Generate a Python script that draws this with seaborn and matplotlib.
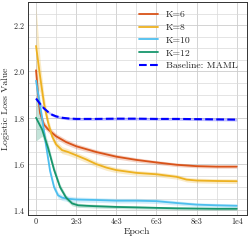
import numpy as np
import pandas as pd
import matplotlib
matplotlib.use("Agg")
import matplotlib.pyplot as plt
from matplotlib.ticker import MultipleLocator
import seaborn as sns

# K=6
k6_x = [0, 100, 200, 400, 600, 1000, 1500, 2000, 3000, 4000, 5000, 6000, 7000, 8000, 9000, 10000]
k6_y = [2.005, 1.90, 1.82, 1.77, 1.75, 1.72, 1.695, 1.677, 1.652, 1.632, 1.618, 1.607, 1.597, 1.591, 1.589, 1.589]
k6_s = [0.03, 0.025, 0.018, 0.014, 0.013, 0.012, 0.012, 0.011, 0.01, 0.01, 0.009, 0.008, 0.008, 0.007, 0.007, 0.007]

# K=8
k8_x = [0, 200, 400, 600, 800, 1000, 1300, 1600, 2000, 2500, 3000, 3500, 4000, 4500, 5000, 6000, 7000, 7500, 8000, 9000, 10000]
k8_y = [2.11, 1.98, 1.86, 1.78, 1.72, 1.685, 1.66, 1.652, 1.638, 1.62, 1.60, 1.585, 1.574, 1.568, 1.562, 1.556, 1.545, 1.533, 1.529, 1.527, 1.526]
k8_s = [0.17, 0.07, 0.035, 0.022, 0.018, 0.016, 0.015, 0.014, 0.013, 0.013, 0.012, 0.012, 0.011, 0.011, 0.01, 0.01, 0.01, 0.01, 0.01, 0.01, 0.01]

# K=10
k10_x = [0, 150, 300, 500, 700, 900, 1100, 1300, 1600, 2000, 3000, 4000, 5000, 6000, 7000, 8000, 9000, 10000]
k10_y = [1.96, 1.88, 1.80, 1.68, 1.57, 1.50, 1.465, 1.455, 1.45, 1.447, 1.445, 1.442, 1.442, 1.44, 1.432, 1.425, 1.422, 1.42]
k10_s = [0.05, 0.03, 0.02, 0.018, 0.016, 0.014, 0.013, 0.012, 0.012, 0.011, 0.01, 0.01, 0.01, 0.01, 0.009, 0.008, 0.008, 0.008]

# K=12
k12_x = [0, 300, 600, 900, 1200, 1500, 1800, 2100, 2500, 3000, 4000, 5000, 6000, 7000, 8000, 9000, 10000]
k12_y = [1.80, 1.75, 1.67, 1.575, 1.50, 1.455, 1.43, 1.422, 1.42, 1.418, 1.415, 1.413, 1.411, 1.409, 1.408, 1.407, 1.407]
k12_s = [0.1, 0.03, 0.02, 0.016, 0.013, 0.011, 0.01, 0.009, 0.008, 0.008, 0.007, 0.007, 0.006, 0.006, 0.006, 0.006, 0.006]

# Baseline MAML
maml_x = [0, 200, 400, 600, 800, 1000, 1300, 1600, 2000, 3000, 4000, 5000, 6000, 7000, 8000, 9000, 10000]
maml_y = [1.883, 1.86, 1.84, 1.825, 1.813, 1.806, 1.80, 1.797, 1.795, 1.795, 1.796, 1.796, 1.795, 1.795, 1.794, 1.793, 1.792]
maml_s = [0.006] * len(maml_x)

xtick_pos = [0, 2000, 4000, 6000, 8000, 10000]
xtick_labels = ["0", "2e3", "4e3", "6e3", "8e3", "1e4"]

sns.set_style("white")
plt.rcParams["font.family"] = "serif"
plt.rcParams["font.serif"] = ["cmr10"]
plt.rcParams["mathtext.fontset"] = "cm"
plt.rcParams["axes.formatter.use_mathtext"] = True

series = [
    ("K=6", k6_x, k6_y, k6_s, "#D95319", "-"),
    ("K=8", k8_x, k8_y, k8_s, "#EDB120", "-"),
    ("K=10", k10_x, k10_y, k10_s, "#4DBEEE", "-"),
    ("K=12", k12_x, k12_y, k12_s, "#17966C", "-"),
    ("Baseline: MAML", maml_x, maml_y, maml_s, "#0000FF", "--"),
]

fig = plt.figure(figsize=(2.5, 2.4), dpi=100)
ax = fig.add_axes([0.112, 0.104, 0.875, 0.888])

for name, x, y, s, col, ls in series:
    df = pd.DataFrame({"Epoch": x, "loss": y, "std": s})
    ax.fill_between(df["Epoch"], df["loss"] - df["std"], df["loss"] + df["std"],
                    color=col, alpha=0.25, lw=0)
    sns.lineplot(data=df, x="Epoch", y="loss", ax=ax, color=col,
                 lw=1.5 if ls == "--" else 1.3, linestyle=ls, label=name)

ax.set_xlim(-400, 10500)
ax.set_ylim(1.38, 2.30)
ax.set_xticks(xtick_pos)
ax.set_xticklabels(xtick_labels)
ax.xaxis.set_minor_locator(MultipleLocator(1000))
ax.yaxis.set_major_locator(MultipleLocator(0.2))
ax.yaxis.set_minor_locator(MultipleLocator(0.05))
ax.grid(which="major", color="#cccccc", lw=0.6)
ax.grid(which="minor", color="#d9d9d9", lw=0.5)
ax.set_axisbelow(True)
ax.tick_params(which="both", direction="in", labelsize=5.8, length=2, width=0.5, pad=2)
ax.tick_params(which="minor", length=1)
for sp in ax.spines.values():
    sp.set_color("#333333")
    sp.set_linewidth(0.7)

ax.set_xlabel("Epoch", fontsize=7, labelpad=1)
ax.set_ylabel("Logistic Loss Value", fontsize=7, labelpad=2)
ax.legend(loc="upper right", fontsize=7, frameon=False, handlelength=2.0,
          labelspacing=0.4)

fig.savefig("out.png", dpi=100)
